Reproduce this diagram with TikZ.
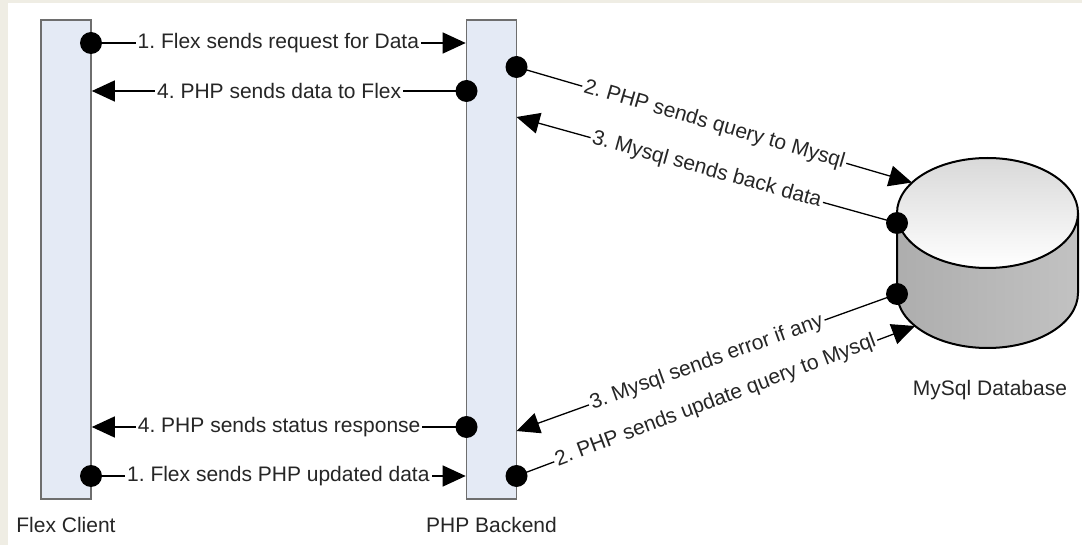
\documentclass[tikz,border=0pt]{standalone}
\usepackage{fontspec}
\setmainfont{Liberation Sans}
\usetikzlibrary{arrows.meta}
\definecolor{bgbeige}{HTML}{EFEDE4}
\definecolor{barfill}{HTML}{E4EAF5}
\definecolor{barline}{HTML}{6E6E6E}
\frenchspacing

\begin{document}
\begin{tikzpicture}[x=1pt, y=-1pt, font=\fontsize{21}{25}\selectfont, text=black!85,
	bar/.style={draw=barline, line width=1.6pt, fill=barfill, minimum width=50pt, minimum height=479pt, inner sep=0pt},
	dot/.style={circle, fill=black, inner sep=0pt, minimum size=22pt},
	msg/.style={line width=1.3pt, -{Triangle[length=23pt, width=21pt]}},
	lbl/.style={fill=white, inner sep=2pt}]
	\fill[bgbeige] (0,0) rectangle (1082,545);
	\fill[white]   (8,3) rectangle (1082,545);
	\useasboundingbox (0,0) rectangle (1082,545);
	\node[bar] (flex) at (66,259.5)  {};
	\node[bar] (php)  at (491.5,259.5) {};
	\node (flexlbl) at (66,525)    {Flex Client};
	\node (phplbl)  at (491.5,525) {PHP Backend};
	\node (dblbl)   at (990,390)   {MySql Database};
	%datenbank
	\fill[left color=black!32, middle color=black!9, right color=black!24] (897,213) -- (897,293) arc[start angle=180, end angle=0, x radius=90.5, y radius=55] -- (1078,213) -- cycle;
	\draw[line width=2pt] (897,213) -- (897,293) arc[start angle=180, end angle=0, x radius=90.5, y radius=55] -- (1078,213);
	\draw[line width=2pt, top color=black!15, bottom color=white] (987.5,213) ellipse[x radius=90.5, y radius=55];
	\coordinate (qry)  at (912,182.5);
	\coordinate (upd)  at (915,326);
	\coordinate (back) at (516.5,117);
	\coordinate (err)  at (516.5,431);
	%oben
	\node[dot] (s1) at (91,43)     {};
	\node[dot] (r1) at (466.5,91)  {};
	\node[dot] (q1) at (516.5,67)  {};
	\node[dot] (b1) at (897,223)   {};
	\draw[msg] (s1.center) -- (php.west |- s1)  node[midway, lbl] {1. Flex sends request for Data};
	\draw[msg] (r1.center) -- (flex.east |- r1) node[midway, lbl] {4. PHP sends data to Flex};
	\draw[msg] (q1.center) -- (qry)  node[midway, lbl, sloped] {2. PHP sends query to Mysql};
	\draw[msg] (b1.center) -- (back) node[midway, lbl, sloped] {3. Mysql sends back data};
	%unten
	\node[dot] (r2) at (466.5,427) {};
	\node[dot] (s2) at (91,476)    {};
	\node[dot] (e1) at (897,294)   {};
	\node[dot] (u1) at (516.5,476) {};
	\draw[msg] (r2.center) -- (flex.east |- r2) node[midway, lbl] {4. PHP sends status response};
	\draw[msg] (s2.center) -- (php.west |- s2)  node[midway, lbl] {1. Flex sends PHP updated data};
	\draw[msg] (e1.center) -- (err) node[midway, lbl, sloped] {3. Mysql sends error if any};
	\draw[msg] (u1.center) -- (upd) node[midway, lbl, sloped] {2. PHP sends update query to Mysql};
\end{tikzpicture}
\end{document}
